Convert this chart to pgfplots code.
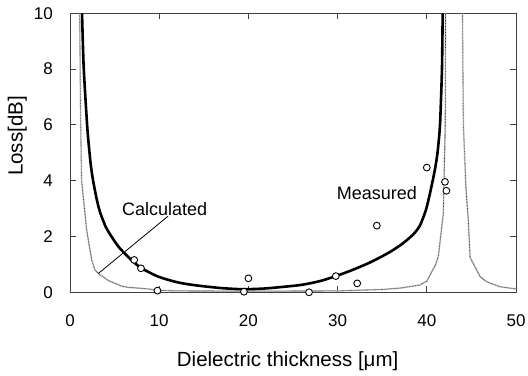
\documentclass[border=0pt]{standalone}
\usepackage{fontspec}
\setmainfont{Liberation Sans}
\usepackage{pgfplots}
\pgfplotsset{compat=1.18}
\usepackage{pgfplotstable}

\pgfplotstableread{
x y
1.35 10
1.53 8.1
1.94 5.9
2.3 4.65
2.58 4.02
3.0 3.33
3.36 2.88
4.0 2.35
4.67 1.99
5.4 1.65
6.17 1.38
7.0 1.12
8.03 0.86
9.9 0.56
11.77 0.38
13.0 0.30
14.6 0.23
17.0 0.15
19.4 0.11
22.0 0.14
25.8 0.26
28.0 0.40
29.8 0.58
31.5 0.78
33.3 1.02
34.75 1.25
36.0 1.47
37.3 1.75
38.5 2.08
39.24 2.40
39.9 2.95
40.36 3.55
40.9 4.38
41.2 5.0
41.48 6.0
41.7 8.0
41.78 10
}\calc

\pgfplotstableread{
x y
1.08 10
1.2 6.0
1.3 4.0
1.87 2.23
2.43 1.16
2.8 0.80
3.17 0.68
4.3 0.42
5.8 0.22
6.5 0.18
8.8 0.12
9.8 0.07
12 0.05
20 0.04
30 0.05
35 0.10
37 0.15
39.2 0.26
40.0 0.40
41.0 1.00
41.3 1.30
41.85 2.83
42.07 6.0
42.1 10
nan nan
44.0 10
44.1 6.0
44.4 3.67
44.65 2.6
44.85 1.25
46.0 0.55
46.7 0.38
48.2 0.20
50 0.12
}\grayc

\pgfplotstableread{
x y
7.2 1.16
7.96 0.86
9.8 0.06
19.5 0.02
20.0 0.50
26.8 0.0
29.8 0.58
32.2 0.32
34.4 2.39
40.0 4.47
42.04 3.96
42.2 3.64
}\meas

\begin{document}
\begin{tikzpicture}
\begin{axis}[
 scale only axis, width=446bp, height=279bp,
 xmin=0, xmax=50, ymin=0, ymax=10,
 xtick={0,10,...,50}, ytick={0,2,...,10},
 tick align=inside, major tick length=6bp,
 axis line style={black!75, line width=0.9bp},
 every tick/.style={black!75, line width=0.9bp},
 tick label style={font=\fontsize{17bp}{20bp}\selectfont},
 /pgf/number format/assume math mode=true,
 xticklabel style={inner sep=0pt, yshift=-22.5bp},
 yticklabel style={inner sep=0pt, xshift=-17bp},
 xlabel={Dielectric thickness [μm]},
 ylabel={Loss[dB]},
 label style={font=\fontsize{20.5bp}{24bp}\selectfont, inner sep=0pt},
 xlabel style={at={(axis description cs:0.488,-0.212)}, anchor=north},
 ylabel style={at={(axis description cs:-0.0964,0.56)}, anchor=south},
 clip=false,
 unbounded coords=jump,
]
\addplot[gray!45, line width=1.6bp, line join=round] table[x=x,y=y]{\grayc};
\addplot[black!80, line width=0.6bp, dash pattern=on 0.7bp off 0.8bp] table[x=x,y=y]{\grayc};
\addplot[black, line width=0.8bp] coordinates {(3.2,0.68) (11.0,2.73)};
\addplot[black, line width=2.6bp, smooth, tension=0.4] table[x=x,y=y]{\calc};
\addplot[only marks, mark=*, mark size=3.4bp, mark options={draw=black, fill=white, line width=0.9bp}] table[x=x,y=y]{\meas};
\node[anchor=base west, inner sep=0pt, font=\fontsize{18bp}{20bp}\selectfont] at (axis cs:5.83,2.77) {Calculated};
\node[anchor=base west, inner sep=0pt, font=\fontsize{18bp}{20bp}\selectfont] at (axis cs:29.9,3.31) {Measured};
\end{axis}
\path (current axis.south west) ++(-70bp,-83.7bp) rectangle ++(528bp,376bp);
\end{tikzpicture}
\end{document}
